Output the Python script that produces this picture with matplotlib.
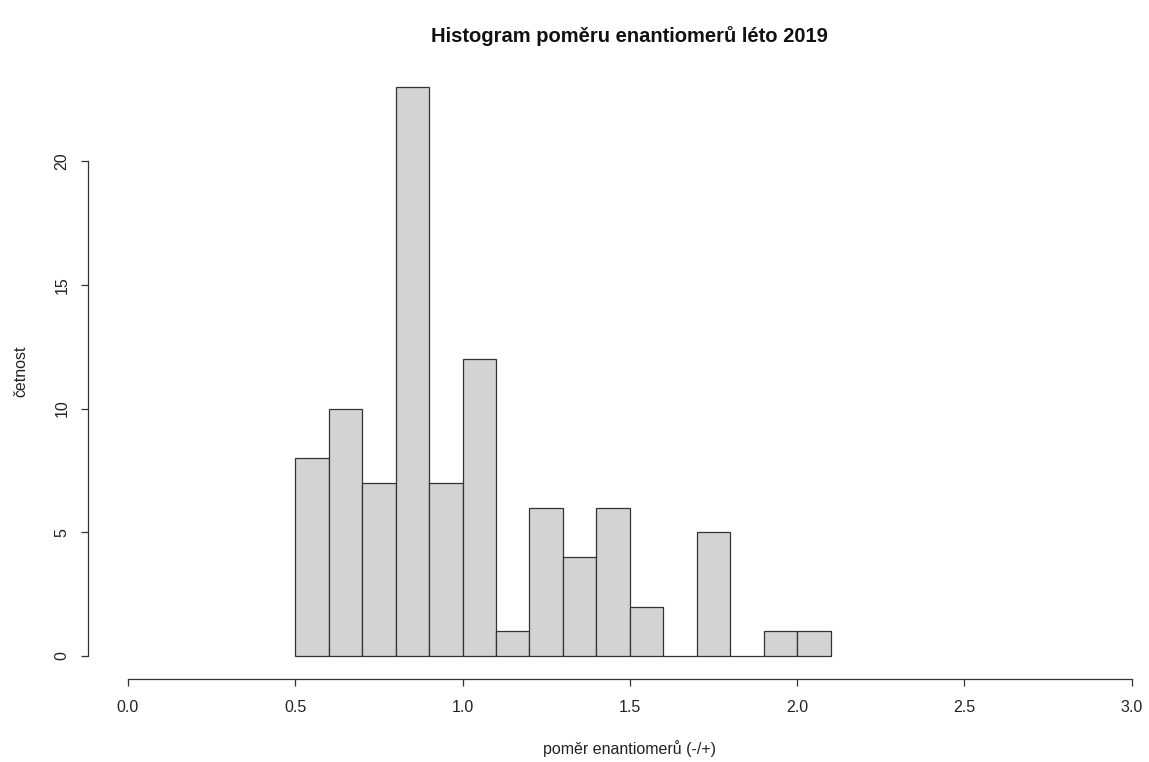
"""
Histogram poměru enantiomerů - léto 2019 (napodobení R hist())
"""

import numpy as np
import matplotlib.pyplot as plt

plt.rcParams['font.family'] = ['Liberation Sans', 'DejaVu Sans']

# Data histogramu
hranice = [0.5, 0.6, 0.7, 0.8, 0.9, 1.0, 1.1, 1.2, 1.3, 1.4, 1.5, 1.6, 1.7, 1.8, 1.9, 2.0, 2.1]
cetnosti = [8, 10, 7, 23, 7, 12, 1, 6, 4, 6, 2, 0, 5, 0, 1, 1]
x_ticks = [0.0, 0.5, 1.0, 1.5, 2.0, 2.5, 3.0]
x_tick_labels = ['0.0', '0.5', '1.0', '1.5', '2.0', '2.5', '3.0']
y_ticks = [0, 5, 10, 15, 20]

W, H = 1149, 762
fig = plt.figure(figsize=(W / 100, H / 100), dpi=100)

# oblast grafu jako v R (pravá část přesahuje obrázek)
left, right, bottom, top = 87.8, 1171.8, 678.8, 64
ax = fig.add_axes([left / W, (H - bottom) / H, (right - left) / W, (bottom - top) / H])

ax.bar(hranice[:-1], cetnosti, width=np.diff(hranice), align='edge',
       color='#d3d3d3', edgecolor='#333333', linewidth=0.9)

ax.set_xlim(-0.12, 3.12)
ax.set_ylim(-0.92, 23.92)

for s in ['top', 'right']:
    ax.spines[s].set_visible(False)
ax.spines['left'].set_bounds(0, 20)
ax.spines['bottom'].set_bounds(0, 3)
for s in ['left', 'bottom']:
    ax.spines[s].set_color('#333333')
    ax.spines[s].set_linewidth(0.9)

ax.set_xticks(x_ticks)
ax.set_xticklabels(x_tick_labels)
ax.set_yticks(y_ticks)
ax.set_yticklabels([str(v) for v in y_ticks], rotation=90, va='center')
ax.tick_params(axis='both', length=5, width=0.9, color='#333333',
               labelsize=11.5, labelcolor='#222222')
ax.tick_params(axis='x', pad=10)
ax.tick_params(axis='y', pad=8)

ax.set_xlabel('poměr enantiomerů (-/+)', fontsize=11.5, color='#222222', labelpad=18)
ax.set_ylabel('četnost', fontsize=11.5, color='#222222', labelpad=19)
ax.set_title('Histogram poměru enantiomerů léto 2019', fontsize=14.5,
             fontweight='bold', pad=16, color='#111111')

fig.savefig('out.png', dpi=100)
